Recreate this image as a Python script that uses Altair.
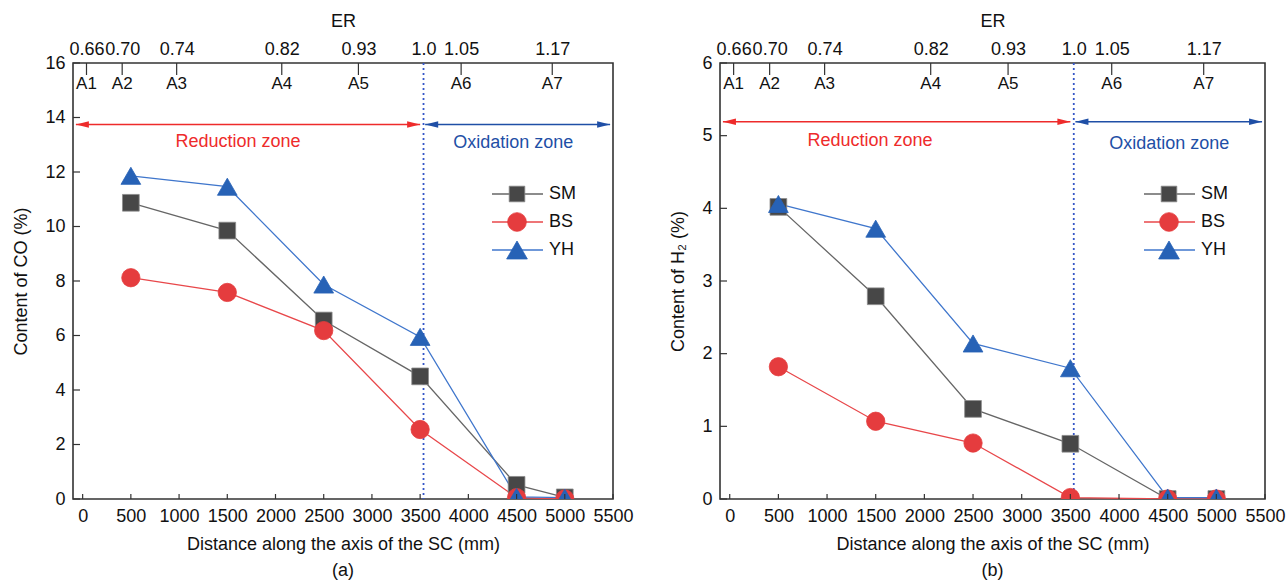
import altair as alt
import pandas as pd

# ---------------- data ----------------
distance = [500, 1500, 2500, 3500, 4500, 5000]
series = ["SM", "BS", "YH"]

co_sm = [10.87, 9.85, 6.55, 4.50, 0.52, 0.06]
co_bs = [8.12, 7.58, 6.18, 2.55, 0.05, 0.00]
co_yh = [11.86, 11.46, 7.87, 5.95, 0.08, 0.05]

h2_sm = [4.02, 2.79, 1.24, 0.76, 0.00, 0.00]
h2_bs = [1.82, 1.07, 0.77, 0.02, 0.00, 0.00]
h2_yh = [4.06, 3.72, 2.14, 1.80, 0.02, 0.02]

sample_names = ["A1", "A2", "A3", "A4", "A5", "A6", "A7"]
sample_pos = [40, 410, 975, 2065, 2860, 3925, 4870]
er_pos = [40, 410, 975, 2065, 2860, 3535, 3925, 4870]
er_labels = ["0.66", "0.70", "0.74", "0.82", "0.93", "1.0", "1.05", "1.17"]
boundary = [3535]

x_ticks = list(range(0, 5501, 500))
co_ticks = list(range(0, 17, 2))
h2_ticks = list(range(0, 7))

zone_names = ["Reduction zone", "Oxidation zone"]
red_arrow = [-70, 3500]
blue_arrow = [3552, 5470]

# ---------------- styles ----------------
FONT = "Liberation Sans"
FS = 18
FRAME = "#333333"
line_colors = ["#666666", "#e8474a", "#3f76cc"]
fill_colors = ["#474747", "#e53c3e", "#2762b6"]
stroke_colors = ["#8c8c8c", "#e53c3e", "#2762b6"]
shapes = ["square", "circle", "triangle-up"]
plot_sizes = [280, 390, 470]
legend_sizes = [245, 350, 430]
zone_colors = ["#ee2b2b", "#1f4fa6"]
DOT = "#3557c8"
ARROW_R = "M0,0 L-2,-0.5 L-2,0.5 Z"
ARROW_L = "M0,0 L2,-0.5 L2,0.5 Z"

XDOM = [-100, 5500]

er_expr = " : ".join(
    f"datum.value == {p} ? '{l}'" for p, l in zip(er_pos, er_labels)
) + " : ''"


def panel(vals, ydom, yticks, ytitle, arrow_y, zone_xy, caption, W, H):
    xs = alt.Scale(domain=XDOM, nice=False, zero=False)
    ys = alt.Scale(domain=ydom, nice=False, zero=False)

    rows = []
    for s, v in zip(series, vals):
        for d, y in zip(distance, v):
            rows.append({"distance": d, "value": y, "series": s})
    df = pd.DataFrame(rows)

    lines = alt.Chart(df).mark_line(clip=True, strokeWidth=1.3).encode(
        x=alt.X("distance:Q", scale=xs,
                axis=alt.Axis(orient="bottom", values=x_ticks, ticks=False, domain=False,
                              grid=False, format="d", labelOverlap=False, labelFlush=False,
                              title="Distance along the axis of the SC (mm)",
                              labelPadding=8, titlePadding=10)),
        y=alt.Y("value:Q", scale=ys,
                axis=alt.Axis(orient="left", values=yticks, ticks=False, domain=False,
                              grid=False, format="d", title=ytitle, labelPadding=8,
                              titlePadding=14, labelFlush=False)),
        color=alt.Color("series:N", scale=alt.Scale(domain=series, range=line_colors), legend=None),
    )

    points = alt.Chart(df).mark_point(filled=True, clip=True, opacity=1, strokeWidth=0.8).encode(
        x=alt.X("distance:Q", scale=xs, axis=None),
        y=alt.Y("value:Q", scale=ys, axis=None),
        shape=alt.Shape("series:N", scale=alt.Scale(domain=series, range=shapes), legend=None),
        fill=alt.Fill("series:N", scale=alt.Scale(domain=series, range=fill_colors), legend=None),
        stroke=alt.Stroke("series:N", scale=alt.Scale(domain=series, range=stroke_colors), legend=None),
        size=alt.Size("series:N", scale=alt.Scale(domain=series, range=plot_sizes), legend=None),
    )

    bdf = pd.DataFrame({"b": boundary})
    dotted = alt.Chart(bdf).mark_rule(color=DOT, strokeWidth=1.8, strokeDash=[2, 3]).encode(
        x=alt.X("b:Q", scale=xs, axis=None)
    )

    # arrows and zone labels (one layer per zone, fixed colours)
    zone_layers = []
    for i, (zname, span) in enumerate(zip(zone_names, [red_arrow, blue_arrow])):
        zd = pd.DataFrame({"x1": [span[0]], "x2": [span[1]], "y": [arrow_y],
                           "tx": [zone_xy[i][0]], "ty": [zone_xy[i][1]], "zone": [zname]})
        c = zone_colors[i]
        zone_layers.append(alt.Chart(zd).mark_rule(strokeWidth=1.5, color=c).encode(
            x=alt.X("x1:Q", scale=xs, axis=None), x2="x2:Q",
            y=alt.Y("y:Q", scale=ys, axis=None)))
        zone_layers.append(alt.Chart(zd).mark_point(
            shape=ARROW_L, filled=True, opacity=1, size=169, color=c, strokeWidth=0).encode(
            x=alt.X("x1:Q", scale=xs, axis=None), y=alt.Y("y:Q", scale=ys, axis=None)))
        zone_layers.append(alt.Chart(zd).mark_point(
            shape=ARROW_R, filled=True, opacity=1, size=169, color=c, strokeWidth=0).encode(
            x=alt.X("x2:Q", scale=xs, axis=None), y=alt.Y("y:Q", scale=ys, axis=None)))
        zone_layers.append(alt.Chart(zd).mark_text(fontSize=FS, font=FONT, color=c).encode(
            x=alt.X("tx:Q", scale=xs, axis=None), y=alt.Y("ty:Q", scale=ys, axis=None),
            text="zone:N"))

    # top ER axis + sample point ticks
    sdf = pd.DataFrame({"pos": sample_pos, "name": sample_names})
    top_ticks = alt.Chart(sdf).mark_rule(color=FRAME, strokeWidth=1.2).encode(
        x=alt.X("pos:Q", scale=xs,
                axis=alt.Axis(orient="top", values=er_pos, labelExpr=er_expr, ticks=False,
                              domain=False, grid=False, title="ER", labelOverlap=False,
                              labelFlush=False, labelPadding=5, titlePadding=10)),
        y=alt.value(0), y2=alt.value(12),
    )
    top_text = alt.Chart(sdf).mark_text(fontSize=17, font=FONT, color="#111", baseline="middle").encode(
        x=alt.X("pos:Q", scale=xs, axis=None),
        y=alt.value(21),
        text="name:N",
    )

    # inward ticks
    ytdf = pd.DataFrame({"t": yticks})
    ytick_marks = alt.Chart(ytdf).mark_rule(color=FRAME, strokeWidth=1.2).encode(
        y=alt.Y("t:Q", scale=ys, axis=None), x=alt.value(0), x2=alt.value(7)
    )
    xtdf = pd.DataFrame({"t": x_ticks})
    xtick_marks = alt.Chart(xtdf).mark_rule(color=FRAME, strokeWidth=1.2).encode(
        x=alt.X("t:Q", scale=xs, axis=None), y=alt.value(H), y2=alt.value(H - 5)
    )

    # legend (drawn manually so that the line runs through the marker)
    leg_layers = []
    for i, s in enumerate(series):
        ld = pd.DataFrame({"series": [s]})
        yy = 131 + i * 28
        leg_layers.append(alt.Chart(ld).mark_rule(color=line_colors[i], strokeWidth=1.3).encode(
            x=alt.value(W - 121), x2=alt.value(W - 70), y=alt.value(yy)))
        leg_layers.append(alt.Chart(ld).mark_point(
            shape=shapes[i], filled=True, opacity=1, size=legend_sizes[i], fill=fill_colors[i],
            stroke=stroke_colors[i], strokeWidth=0.8).encode(
            x=alt.value(W - 96), y=alt.value(yy)))
        leg_layers.append(alt.Chart(ld).mark_text(
            fontSize=FS, font=FONT, color="#111", align="left", baseline="middle").encode(
            x=alt.value(W - 64), y=alt.value(yy), text="series:N"))

    chart = alt.layer(
        dotted, *zone_layers, lines, points,
        top_ticks, top_text, ytick_marks, xtick_marks, *leg_layers
    ).resolve_axis(x="independent", y="independent").properties(
        width=W, height=H,
        title=alt.TitleParams(caption, orient="bottom", fontSize=FS, font=FONT,
                              fontWeight="normal", offset=9, anchor="middle", frame="group",
                              color="#111"),
    )
    return chart


left = panel([co_sm, co_bs, co_yh], [0, 16], co_ticks, "Content of CO (%)", 13.74,
             [(1612, 13.1), (4465, 13.05)], "(a)", 540, 436)
right = panel([h2_sm, h2_bs, h2_yh], [0, 6], h2_ticks, "Content of H\u2082 (%)", 5.19,
              [(1442, 4.93), (4516, 4.89)], "(b)", 545, 436)

chart = alt.hconcat(left, right, spacing=35).properties(
    padding={"left": 12, "top": 11, "right": 0, "bottom": 0},
    background="white",
).configure_view(
    stroke=FRAME, strokeWidth=1.6
).configure_axis(
    labelFont=FONT, titleFont=FONT, labelFontSize=FS, titleFontSize=FS,
    labelColor="#111", titleColor="#111", titleFontWeight="normal"
)

chart.save("out.html", embed_options={"renderer": "svg", "actions": False})
